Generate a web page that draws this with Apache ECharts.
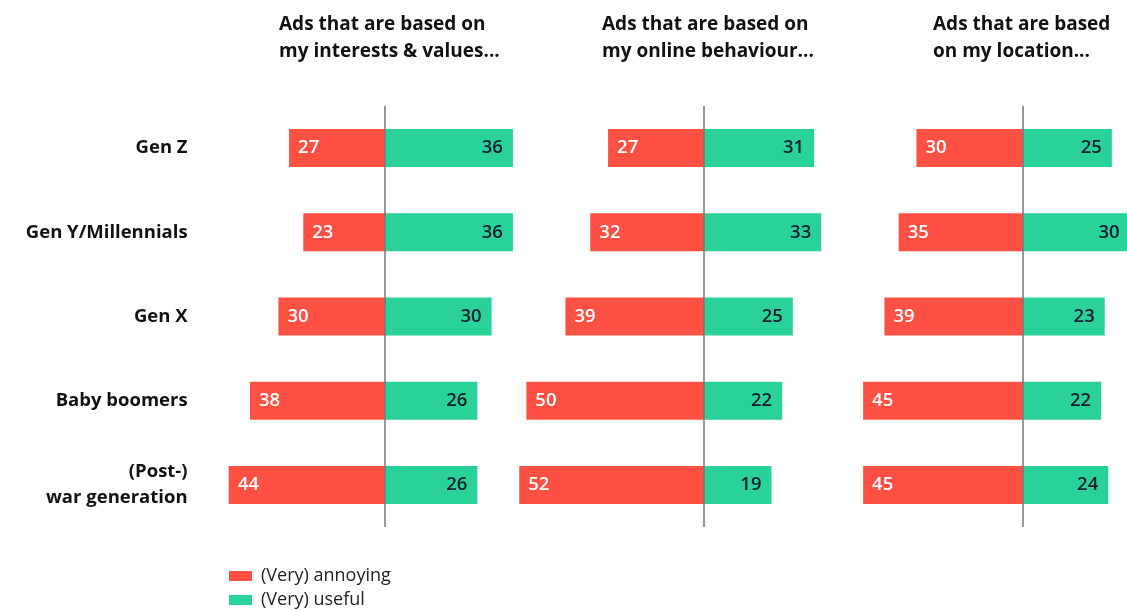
<!DOCTYPE html>
<html>
<head>
<meta charset="utf-8">
<script src="https://cdn.jsdelivr.net/npm/echarts@6/dist/echarts.min.js"></script>
<style>
  html, body { margin: 0; padding: 0; background: #fff; }
  #chart { width: 1127px; height: 611px; }
</style>
</head>
<body>
<div id="chart"></div>
<script>
const categories = ['Gen Z', 'Gen Y/Millennials', 'Gen X', 'Baby boomers', '(Post-)\nwar generation'];
const panelTitles = [
  'Ads that are based on\nmy interests & values...',
  'Ads that are based on\nmy online behaviour...',
  'Ads that are based\non my location...'
];
const annoying = [
  [27, 23, 30, 38, 44],
  [27, 32, 39, 50, 52],
  [30, 35, 39, 45, 45]
];
const useful = [
  [36, 36, 30, 26, 26],
  [31, 33, 25, 22, 19],
  [25, 30, 23, 22, 24]
];

const RED = '#ff5044';
const GREEN = '#2ad199';
const FONT = 'Open Sans';
const centers = [385, 704, 1023];
const titleLeft = [274, 597, 928];
const xMin = -55, xMax = 40;
const pxPerUnit = 3.553;

let grids = [], xAxes = [], yAxes = [], series = [], titles = [];
centers.forEach(function (c, i) {
  grids.push({
    left: c + xMin * pxPerUnit,
    width: (xMax - xMin) * pxPerUnit,
    top: 106,
    height: 421,
    outerBoundsMode: 'none',
    containLabel: false
  });
  xAxes.push({
    gridIndex: i, type: 'value', min: xMin, max: xMax,
    show: false, splitLine: {show: false}
  });
  yAxes.push({
    gridIndex: i, type: 'category', data: categories, inverse: true,
    axisLine: {show: false}, axisTick: {show: false},
    axisLabel: {
      show: i === 0, margin: 2, align: 'right',
      fontFamily: FONT, fontWeight: 'bold', fontSize: 18.5, color: '#111',
      lineHeight: 26
    }
  });
  titles.push({
    text: panelTitles[i], left: titleLeft[i], top: 6,
    textStyle: {fontFamily: FONT, fontWeight: 'bold', fontSize: 19, color: '#111', lineHeight: 27}
  });
  series.push({
    name: '(Very) annoying', type: 'bar', stack: 'p' + i,
    xAxisIndex: i, yAxisIndex: i, barWidth: 38,
    data: annoying[i].map(function (v) { return -v; }),
    itemStyle: {color: RED},
    label: {
      show: true, position: 'insideLeft', distance: 9,
      formatter: function (p) { return Math.abs(p.value); },
      color: '#fff', fontFamily: FONT, fontWeight: 600, fontSize: 18.5
    },
    markLine: {
      silent: true, symbol: 'none',
      label: {show: false},
      lineStyle: {color: '#777', width: 1.5, type: 'solid'},
      data: [{xAxis: 0}]
    }
  });
  series.push({
    name: '(Very) useful', type: 'bar', stack: 'p' + i,
    xAxisIndex: i, yAxisIndex: i, barWidth: 38,
    data: useful[i],
    itemStyle: {color: GREEN},
    label: {
      show: true, position: 'insideRight', distance: 10,
      color: '#0b1f2e', fontFamily: FONT, fontWeight: 600, fontSize: 18.5
    }
  });
});

const chart = echarts.init(document.getElementById('chart'));
chart.setOption({
  animation: false,
  title: titles,
  grid: grids,
  xAxis: xAxes,
  yAxis: yAxes,
  legend: {
    data: ['(Very) annoying', '(Very) useful'],
    orient: 'vertical', left: 229, top: 567, padding: 0,
    icon: 'rect', itemWidth: 23, itemHeight: 10, itemGap: 6,
    textStyle: {fontFamily: FONT, fontSize: 18, color: '#222', padding: [0, 0, 0, 4]}
  },
  series: series
});
</script>
</body>
</html>
